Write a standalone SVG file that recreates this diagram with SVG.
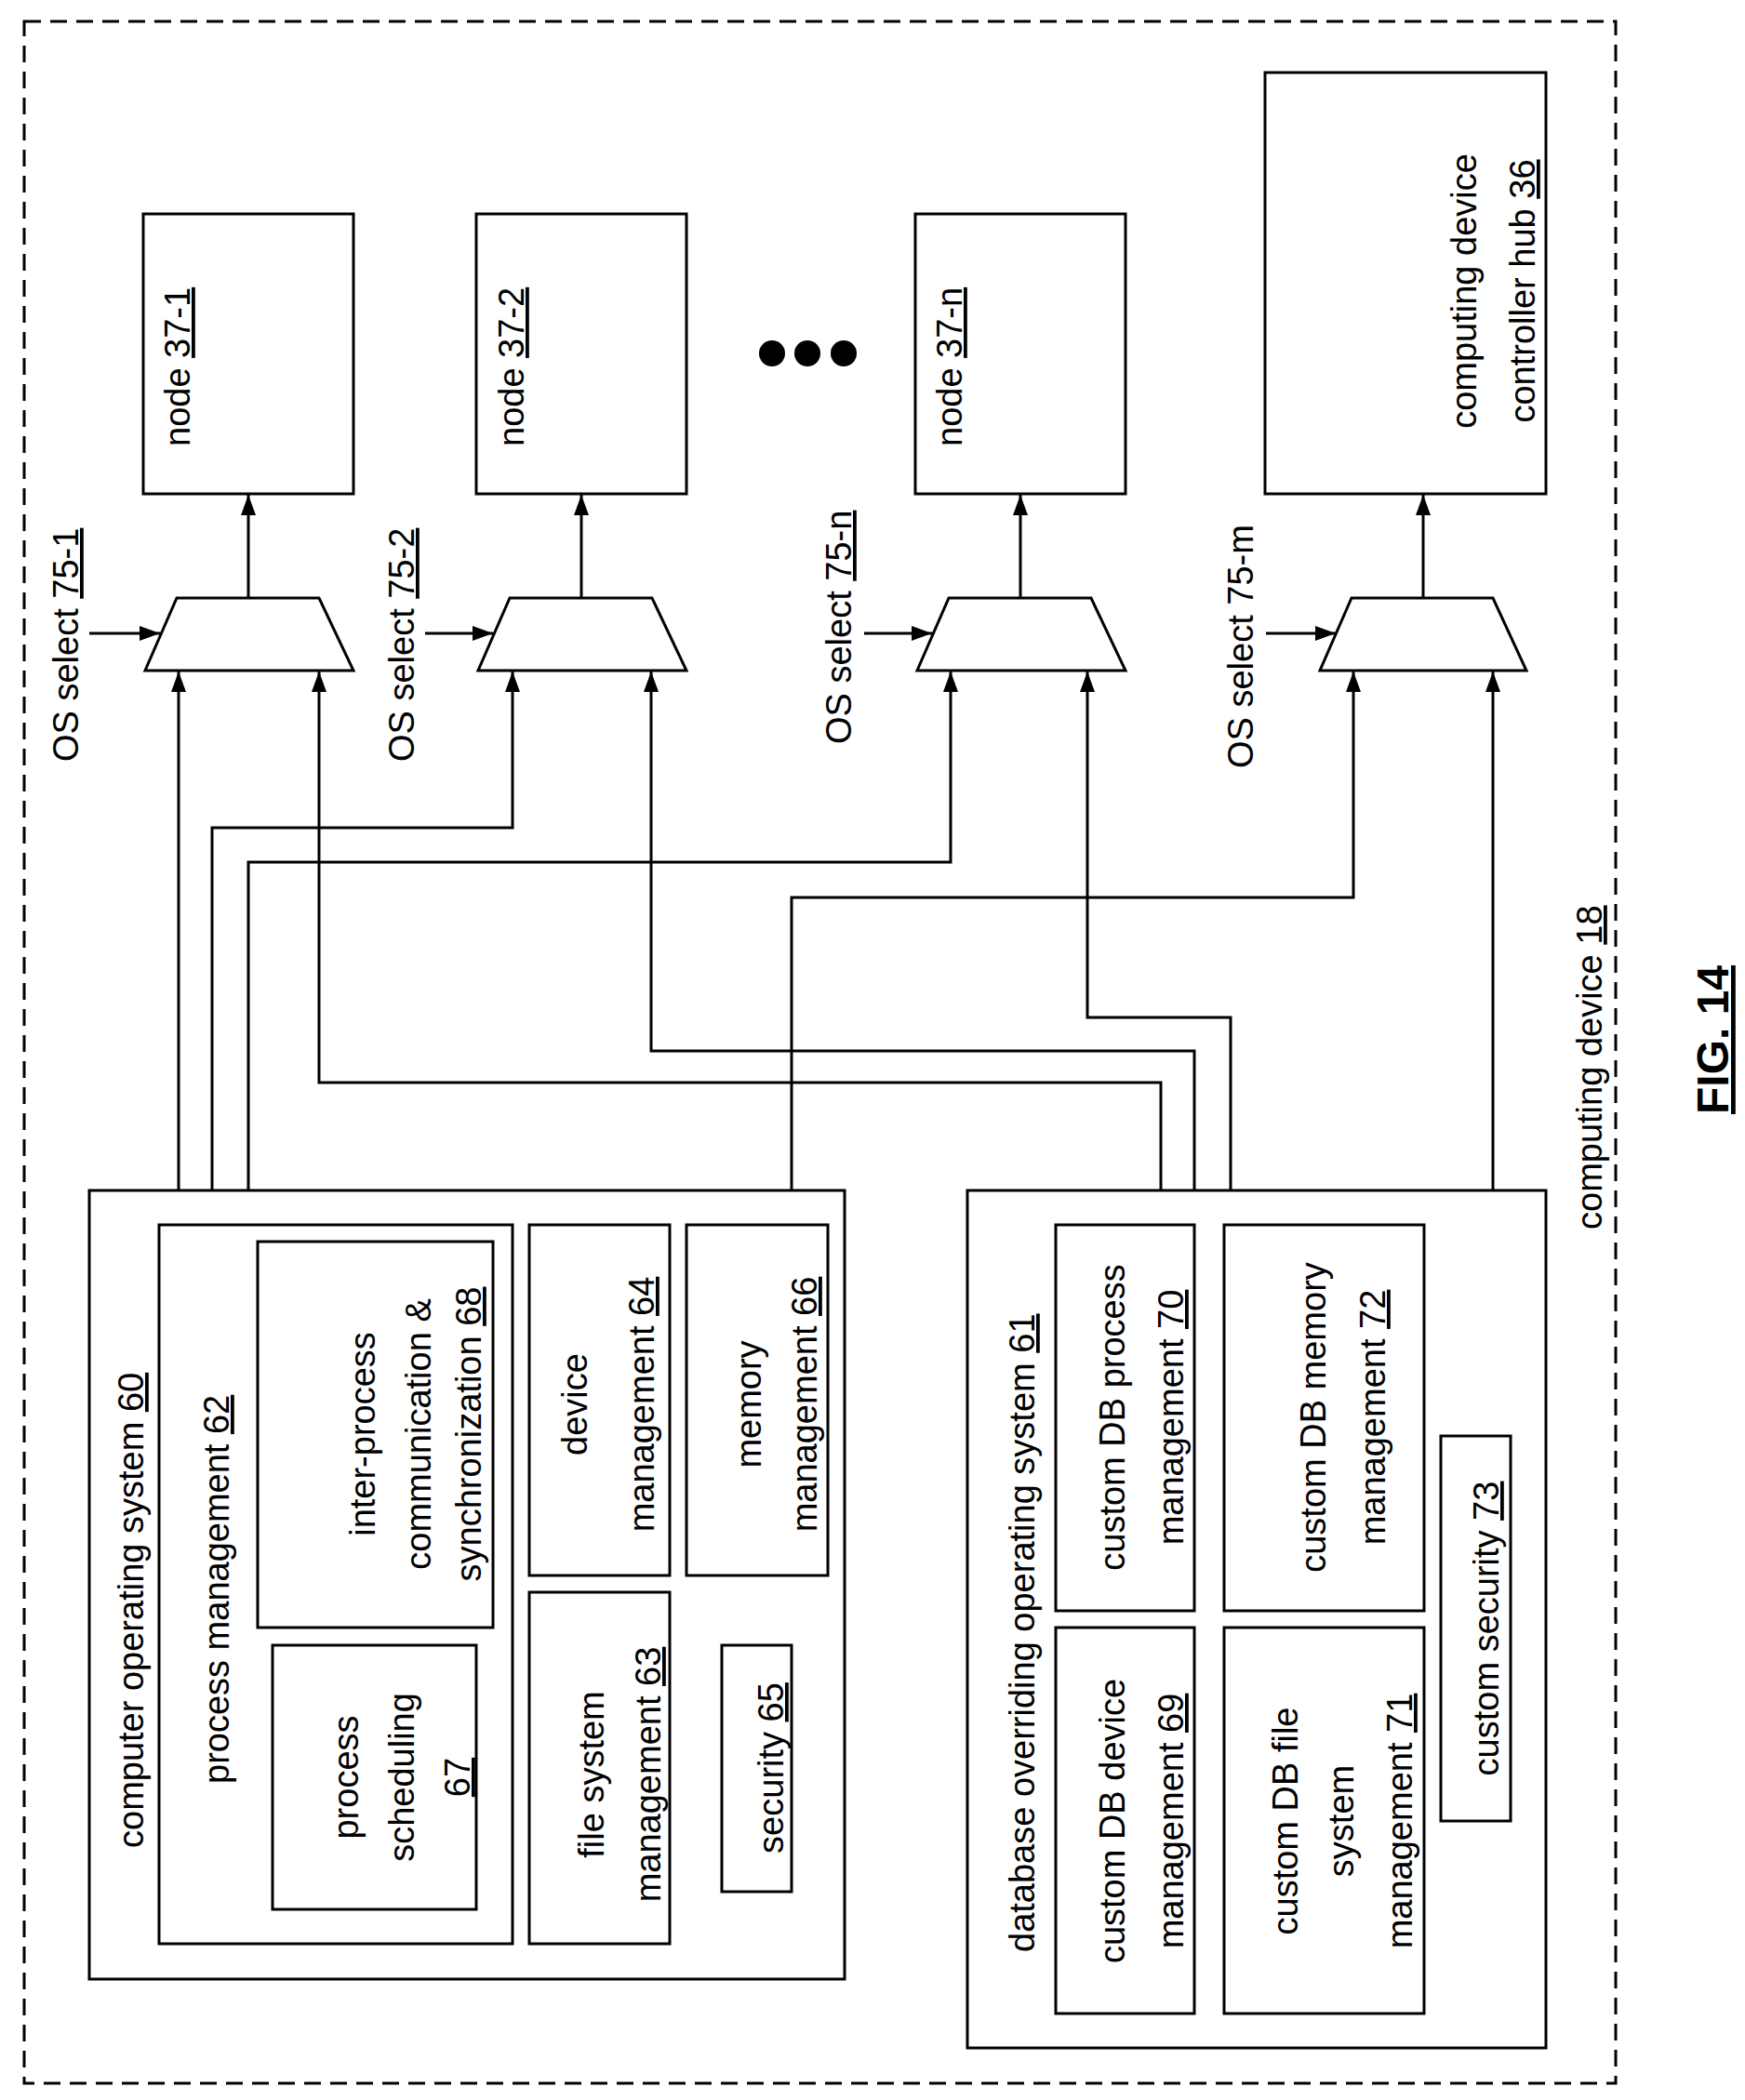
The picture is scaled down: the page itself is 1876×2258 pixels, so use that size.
<svg xmlns="http://www.w3.org/2000/svg" width="1876" height="2258" viewBox="0 0 1876 2258">
<style>
.b{fill:#fff;stroke:#000;stroke-width:3}
.l{fill:none;stroke:#000;stroke-width:3}
text{font-family:"Liberation Sans",Arial,sans-serif;font-size:38px;fill:#000}
.m{text-anchor:middle}
.u{text-decoration:underline}
</style>
<defs>
<marker id="a" viewBox="0 0 22 16" refX="22" refY="8" markerWidth="22" markerHeight="16" markerUnits="userSpaceOnUse" orient="auto">
<path d="M0,0 L22,8 L0,16 z" fill="#000"/>
</marker>
</defs>
<rect x="1" y="1" width="1874" height="2256" fill="#fff"/>
<rect x="26" y="23" width="1711" height="2217" fill="none" stroke="#000" stroke-width="3" stroke-dasharray="18 10"/>

<g id="node37-1"><rect class="b" x="154" y="230" width="226" height="301"/><text transform="translate(204,480) rotate(-90)">node <tspan class="u">37-1</tspan></text></g>
<g id="node37-2"><rect class="b" x="512" y="230" width="226" height="301"/><text transform="translate(563,480) rotate(-90)">node <tspan class="u">37-2</tspan></text></g>
<g id="node37-n"><rect class="b" x="984" y="230" width="226" height="301"/><text transform="translate(1034,480) rotate(-90)">node <tspan class="u">37-n</tspan></text></g>
<g id="hub36"><rect class="b" x="1360" y="78" width="302" height="453"/><text class="m" transform="translate(1587,313) rotate(-90)">computing device</text><text class="m" transform="translate(1650,313) rotate(-90)">controller hub <tspan class="u">36</tspan></text></g>
<g id="dots"><circle cx="830" cy="380" r="14"/><circle cx="868" cy="380" r="14"/><circle cx="907" cy="380" r="14"/></g>

<g id="mux1"><path class="b" d="M190,643 L343,643 L380,721 L156,721 Z"/></g>
<g id="mux2"><path class="b" d="M548,643 L701,643 L738,721 L514,721 Z"/></g>
<g id="muxn"><path class="b" d="M1020,643 L1173,643 L1210,721 L986,721 Z"/></g>
<g id="muxm"><path class="b" d="M1453,643 L1605,643 L1641,721 L1419,721 Z"/></g>

<g id="labels">
<text transform="translate(84,819) rotate(-90)">OS select <tspan class="u">75-1</tspan></text>
<text transform="translate(445,819) rotate(-90)">OS select <tspan class="u">75-2</tspan></text>
<text transform="translate(915,800) rotate(-90)">OS select <tspan class="u">75-n</tspan></text>
<text transform="translate(1347,826) rotate(-90)">OS select 75-m</text>
</g>

<g id="os60"><rect class="b" x="96" y="1280" width="812" height="848"/>
<text transform="translate(154,1987) rotate(-90)">computer operating system <tspan class="u">60</tspan></text></g>
<g id="pm62"><rect class="b" x="171" y="1317" width="380" height="773"/>
<text transform="translate(246,1918) rotate(-90)">process management <tspan class="u">62</tspan></text></g>
<g id="ipc68"><rect class="b" x="277" y="1335" width="253" height="415"/>
<text class="m" transform="translate(403,1542) rotate(-90)">inter-process</text>
<text class="m" transform="translate(463,1542) rotate(-90)">communication &amp;</text>
<text class="m" transform="translate(517,1542) rotate(-90)">synchronization <tspan class="u">68</tspan></text></g>
<g id="ps67"><rect class="b" x="293" y="1769" width="219" height="284"/>
<text class="m" transform="translate(385,1911) rotate(-90)">process</text>
<text class="m" transform="translate(445,1911) rotate(-90)">scheduling</text>
<text class="m" transform="translate(505,1911) rotate(-90)"><tspan class="u">67</tspan></text></g>
<g id="dm64"><rect class="b" x="569" y="1317" width="151" height="377"/>
<text class="m" transform="translate(631,1510) rotate(-90)">device</text>
<text class="m" transform="translate(703,1510) rotate(-90)">management <tspan class="u">64</tspan></text></g>
<g id="mm66"><rect class="b" x="738" y="1317" width="152" height="377"/>
<text class="m" transform="translate(818,1510) rotate(-90)">memory</text>
<text class="m" transform="translate(878,1510) rotate(-90)">management <tspan class="u">66</tspan></text></g>
<g id="fs63"><rect class="b" x="569" y="1712" width="151" height="378"/>
<text class="m" transform="translate(649,1908) rotate(-90)">file system</text>
<text class="m" transform="translate(710,1908) rotate(-90)">management <tspan class="u">63</tspan></text></g>
<g id="sec65"><rect class="b" x="776" y="1769" width="75" height="265"/>
<text class="m" transform="translate(842,1901) rotate(-90)">security <tspan class="u">65</tspan></text></g>

<g id="db61"><rect class="b" x="1040" y="1280" width="622" height="922"/>
<text transform="translate(1112,2099) rotate(-90)">database overriding operating system <tspan class="u">61</tspan></text></g>
<g id="c70"><rect class="b" x="1135" y="1317" width="149" height="415"/>
<text class="m" transform="translate(1209,1524) rotate(-90)">custom DB process</text>
<text class="m" transform="translate(1272,1524) rotate(-90)">management <tspan class="u">70</tspan></text></g>
<g id="c72"><rect class="b" x="1316" y="1317" width="215" height="415"/>
<text class="m" transform="translate(1425,1524) rotate(-90)">custom DB memory</text>
<text class="m" transform="translate(1489,1524) rotate(-90)">management <tspan class="u">72</tspan></text></g>
<g id="c69"><rect class="b" x="1135" y="1750" width="149" height="415"/>
<text class="m" transform="translate(1209,1958) rotate(-90)">custom DB device</text>
<text class="m" transform="translate(1272,1958) rotate(-90)">management <tspan class="u">69</tspan></text></g>
<g id="c71"><rect class="b" x="1316" y="1750" width="215" height="415"/>
<text class="m" transform="translate(1395,1958) rotate(-90)">custom DB file</text>
<text class="m" transform="translate(1455,1958) rotate(-90)">system</text>
<text class="m" transform="translate(1518,1958) rotate(-90)">management <tspan class="u">71</tspan></text></g>
<g id="c73"><rect class="b" x="1549" y="1544" width="75" height="414"/>
<text class="m" transform="translate(1611,1751) rotate(-90)">custom security <tspan class="u">73</tspan></text></g>

<g id="connectors">
<path class="l" d="M96,681 H172" marker-end="url(#a)"/>
<path class="l" d="M457,681 H530" marker-end="url(#a)"/>
<path class="l" d="M929,681 H1002" marker-end="url(#a)"/>
<path class="l" d="M1361,681 H1436" marker-end="url(#a)"/>
<path class="l" d="M267,643 V532" marker-end="url(#a)"/>
<path class="l" d="M625,643 V532" marker-end="url(#a)"/>
<path class="l" d="M1097,643 V532" marker-end="url(#a)"/>
<path class="l" d="M1530,643 V532" marker-end="url(#a)"/>
<path class="l" d="M192,1280 V722" marker-end="url(#a)"/>
<path class="l" d="M228,1280 V890 H551 V722" marker-end="url(#a)"/>
<path class="l" d="M267,1280 V927 H1022 V722" marker-end="url(#a)"/>
<path class="l" d="M851,1280 V965 H1455 V722" marker-end="url(#a)"/>
<path class="l" d="M1248,1280 V1164 H343 V722" marker-end="url(#a)"/>
<path class="l" d="M1284,1280 V1130 H700 V722" marker-end="url(#a)"/>
<path class="l" d="M1323,1280 V1094 H1169 V722" marker-end="url(#a)"/>
<path class="l" d="M1605,1280 V722" marker-end="url(#a)"/>
</g>

<text transform="translate(1722,1322) rotate(-90)">computing device <tspan class="u">18</tspan></text>
<text transform="translate(1858,1198) rotate(-90)" style="font-weight:bold;font-size:48px" class="u">FIG. 14</text>
</svg>
